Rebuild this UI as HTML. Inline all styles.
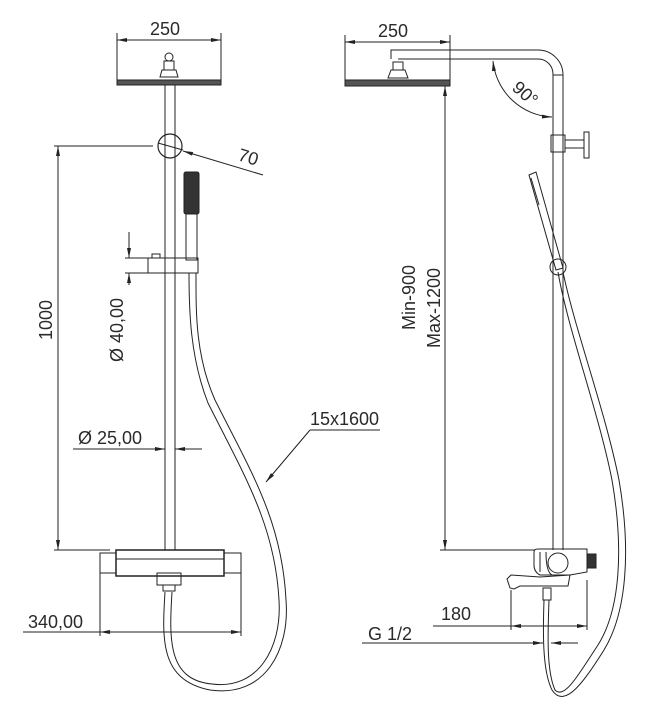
<!DOCTYPE html>
<html><head><meta charset="utf-8"><style>
html,body{margin:0;padding:0;background:#fff}
svg{display:block}
text{font-family:"Liberation Sans",sans-serif;font-size:18px;fill:#2a2a2a}
</style></head><body>
<svg width="646" height="720" viewBox="0 0 646 720" xmlns="http://www.w3.org/2000/svg">
<defs>
<marker id="a" viewBox="0 0 10 4" refX="10" refY="2" markerWidth="12" markerHeight="4" markerUnits="userSpaceOnUse" orient="auto-start-reverse"><path d="M0,0L10,2L0,4z" fill="#222"/></marker>
</defs>
<g stroke="#222" stroke-width="1" fill="none">
<line x1="117" y1="33" x2="117" y2="80"/><line x1="221" y1="33" x2="221" y2="80"/>
<line x1="117" y1="40" x2="221" y2="40" marker-start="url(#a)" marker-end="url(#a)"/>
<path d="M117,80 L221,80 L221,85 L117,85 Z" fill="#555"/>
<path d="M160,77 L178,77 L176,70 L162,70 Z"/>
<rect x="164" y="61" width="10" height="9"/>
<circle cx="169" cy="57" r="4"/>
<line x1="165" y1="85" x2="165" y2="550"/><line x1="175" y1="85" x2="175" y2="550"/>
<circle cx="170" cy="146" r="12" stroke-width="1.2"/>
<line x1="158" y1="143" x2="183" y2="150"/>
<line x1="263" y1="175" x2="183" y2="151" marker-end="url(#a)"/>
<line x1="54" y1="146" x2="153" y2="146"/><line x1="54" y1="550" x2="110" y2="550"/>
<line x1="58" y1="146" x2="58" y2="550" marker-start="url(#a)" marker-end="url(#a)"/>
<rect x="184" y="172" width="15" height="42" rx="2" fill="#333"/>
<rect x="186" y="214" width="11" height="46"/>
<rect x="148" y="258" width="50" height="15"/>
<rect x="152" y="254" width="8" height="4"/>
<line x1="125" y1="258" x2="148" y2="258"/><line x1="125" y1="273" x2="148" y2="273"/>
<line x1="129" y1="232" x2="129" y2="258" marker-end="url(#a)"/>
<line x1="129" y1="285" x2="129" y2="273" marker-end="url(#a)"/>
<line x1="73" y1="449" x2="165" y2="449" marker-end="url(#a)"/>
<line x1="202" y1="449" x2="175" y2="449" marker-end="url(#a)"/>
<rect x="100" y="553" width="16" height="20"/><rect x="224" y="553" width="17" height="20"/>
<rect x="116" y="550" width="108" height="26" stroke-width="1.5"/>
<line x1="116" y1="559" x2="224" y2="559"/>
<rect x="157" y="573" width="24" height="12"/>
<rect x="163" y="585" width="12" height="6"/>
<line x1="100" y1="573" x2="100" y2="636"/><line x1="241" y1="573" x2="241" y2="636"/>
<line x1="23" y1="632" x2="100" y2="632"/>
<line x1="100" y1="632" x2="241" y2="632" marker-start="url(#a)" marker-end="url(#a)"/>
<path d="M165,592 C162,640 160,680 210,690 C265,698 290,650 286,600 C282,520 250,470 215,400 C195,355 196,310 196,273"/>
<path d="M172,592 C169,640 168,680 212,684 C258,690 282,648 279,600 C275,525 244,475 208,403 C190,357 189,310 189,273"/>
<line x1="380" y1="430" x2="310" y2="430"/>
<line x1="310" y1="430" x2="266" y2="482" marker-end="url(#a)"/>

<line x1="345" y1="35" x2="345" y2="80"/><line x1="450" y1="35" x2="450" y2="80"/>
<line x1="345" y1="42" x2="450" y2="42" marker-start="url(#a)" marker-end="url(#a)"/>
<path d="M345,80 L450,80 L450,86 L345,86 Z" fill="#555"/>
<path d="M388,78 L408,78 L405,70 L391,70 Z"/><rect x="393" y="62" width="10" height="8"/>
<path d="M391,59 L391,50 L538,50 A25,25 0 0 1 563,75 L563,550"/>
<path d="M398,59 L538,59 A15,15 0 0 1 553,74 L553,550"/>
<line x1="553" y1="75" x2="563" y2="75"/>
<path d="M493,61 A62,62 0 0 0 552,117" marker-start="url(#a)" marker-end="url(#a)"/>
<rect x="551" y="135" width="14" height="17"/>
<line x1="565" y1="140" x2="584" y2="140"/><line x1="565" y1="148" x2="584" y2="148"/>
<rect x="584" y="132" width="5" height="26"/>
<path d="M529,175 L536,172 L563,268 L556,270 Z"/>
<line x1="531" y1="178" x2="539" y2="205"/>
<circle cx="558" cy="267" r="8"/>
<line x1="445" y1="86" x2="445" y2="550" marker-start="url(#a)" marker-end="url(#a)"/>
<line x1="440" y1="550" x2="535" y2="550"/>
<path d="M558,272 C568,330 598,410 612,480 C624,550 620,610 598,645 C580,672 565,700 555,690 C546,670 548,630 549,600"/>
<path d="M563,272 C575,330 605,410 619,480 C631,550 627,612 604,650 C585,680 565,710 552,690 C542,670 543,630 544,600"/>
<path d="M534,552 Q534,549 538,549 L587,549 L587,572 L570,575 L540,575 Q534,572 534,565 Z"/>
<circle cx="558" cy="563" r="10"/>
<path d="M540,552 L540,572 M546,552 Q546,572 552,575"/>
<rect x="587" y="554" width="9" height="14" fill="#333"/>
<path d="M570,575 L568,586 L520,586 L514,589 L510,588 L507,579 L511,575 L540,577 Z"/>
<rect x="543" y="588" width="8" height="12"/>
<line x1="511" y1="590" x2="511" y2="630"/><line x1="587" y1="580" x2="587" y2="630"/>
<line x1="433" y1="626" x2="511" y2="626"/>
<line x1="511" y1="626" x2="587" y2="626" marker-start="url(#a)" marker-end="url(#a)"/>
<line x1="362" y1="643" x2="543" y2="643" marker-end="url(#a)"/>
<line x1="578" y1="643" x2="551" y2="643" marker-end="url(#a)"/>
</g>
<text x="150" y="35">250</text>
<text x="378" y="37">250</text>
<text transform="translate(237,160) rotate(17)">70</text>
<text transform="translate(52,340) rotate(-90)">1000</text>
<text transform="translate(123,362) rotate(-90)">Ø 40,00</text>
<text x="78" y="444">Ø 25,00</text>
<text x="310" y="425">15x1600</text>
<text x="28" y="628">340,00</text>
<text transform="translate(511,89) rotate(42)">90°</text>
<text transform="translate(415,330) rotate(-90)">Min-900</text>
<text transform="translate(440,348) rotate(-90)">Max-1200</text>
<text x="441" y="620">180</text>
<text x="368" y="640">G 1/2</text>
</svg>
</body></html>
